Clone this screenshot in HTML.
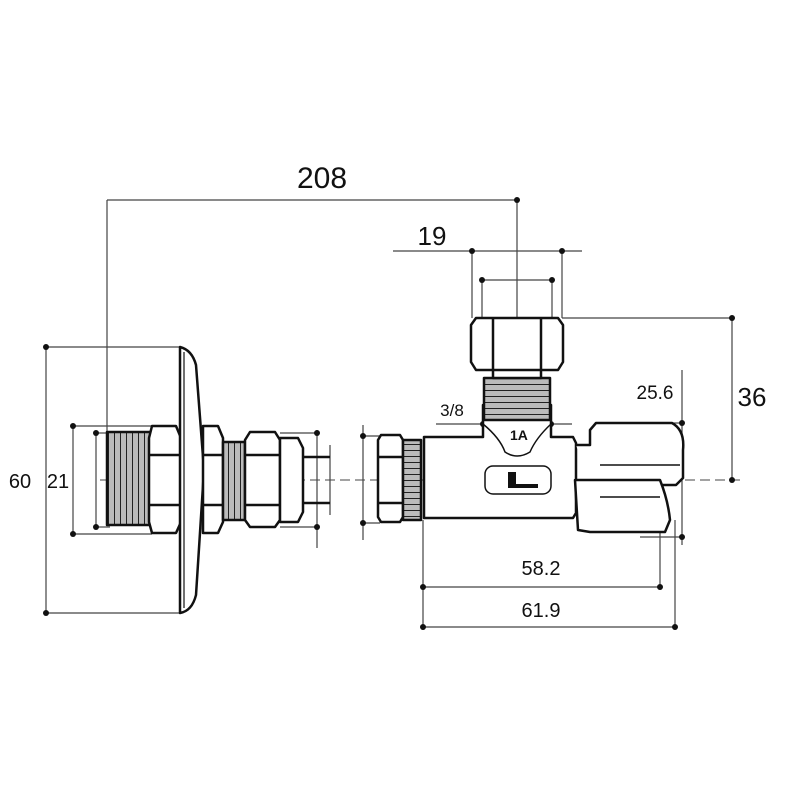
<!DOCTYPE html>
<html><head><meta charset="utf-8"><style>
html,body{margin:0;padding:0;background:#fff;}
svg{display:block;}
text{font-family:"Liberation Sans","DejaVu Sans",sans-serif;fill:#111;}
</style></head><body>
<svg width="800" height="800" viewBox="0 0 800 800" xmlns="http://www.w3.org/2000/svg">
<defs>
<pattern id="thr" width="6" height="6" patternUnits="userSpaceOnUse">
<rect width="6" height="6" fill="#bbb"/><line x1="0" y1="0" x2="0" y2="6" stroke="#222" stroke-width="2"/>
</pattern>
<pattern id="thrh" width="6" height="6" patternUnits="userSpaceOnUse">
<rect width="6" height="6" fill="#bbb"/><line x1="0" y1="0" x2="6" y2="0" stroke="#222" stroke-width="2"/>
</pattern>
</defs>
<g stroke="#444" stroke-width="1.2" fill="none">
<line x1="107" y1="200" x2="517" y2="200"/>
<line x1="107" y1="200" x2="107" y2="432"/>
<line x1="517" y1="200" x2="517" y2="480"/>
<line x1="393" y1="251" x2="582" y2="251"/>
<line x1="472" y1="251" x2="472" y2="318"/>
<line x1="562" y1="251" x2="562" y2="318"/>
<line x1="482" y1="280" x2="552" y2="280"/>
<line x1="482" y1="280" x2="482" y2="318"/>
<line x1="552" y1="280" x2="552" y2="318"/>
<line x1="562" y1="318" x2="732" y2="318"/>
<line x1="732" y1="318" x2="732" y2="480"/>
<line x1="682" y1="370" x2="682" y2="545"/>
<line x1="672" y1="423" x2="682" y2="423"/>
<line x1="436" y1="424" x2="572" y2="424"/>
<line x1="423" y1="520" x2="423" y2="630"/>
<line x1="423" y1="587" x2="660" y2="587"/>
<line x1="660" y1="515" x2="660" y2="590"/>
<line x1="423" y1="627" x2="675" y2="627"/>
<line x1="675" y1="520" x2="675" y2="630"/>
<line x1="640" y1="537" x2="682" y2="537"/>
<line x1="46" y1="347" x2="46" y2="613"/>
<line x1="46" y1="347" x2="180" y2="347"/>
<line x1="46" y1="613" x2="180" y2="613"/>
<line x1="73" y1="426" x2="73" y2="534"/>
<line x1="73" y1="426" x2="152" y2="426"/>
<line x1="73" y1="534" x2="152" y2="534"/>
<line x1="96" y1="433" x2="96" y2="527"/>
<line x1="96" y1="433" x2="110" y2="433"/>
<line x1="96" y1="527" x2="110" y2="527"/>
<line x1="317" y1="430" x2="317" y2="548"/>
<line x1="280" y1="433" x2="317" y2="433"/>
<line x1="280" y1="527" x2="317" y2="527"/>
<line x1="330" y1="445" x2="330" y2="515"/>
<line x1="363" y1="425" x2="363" y2="540"/>
<line x1="363" y1="436" x2="380" y2="436"/>
<line x1="363" y1="523" x2="380" y2="523"/>
<line x1="100" y1="480" x2="740" y2="480" stroke-dasharray="10,5" stroke-width="1"/>
</g>
<g fill="#111">
<circle cx="517" cy="200" r="3"/><circle cx="472" cy="251" r="3"/><circle cx="562" cy="251" r="3"/>
<circle cx="482" cy="280" r="3"/><circle cx="552" cy="280" r="3"/>
<circle cx="732" cy="318" r="3"/><circle cx="732" cy="480" r="3"/>
<circle cx="682" cy="423" r="3"/><circle cx="682" cy="537" r="3"/>
<circle cx="483" cy="424" r="3"/><circle cx="551" cy="424" r="3"/>
<circle cx="423" cy="587" r="3"/><circle cx="660" cy="587" r="3"/>
<circle cx="423" cy="627" r="3"/><circle cx="675" cy="627" r="3"/>
<circle cx="46" cy="347" r="3"/><circle cx="46" cy="613" r="3"/>
<circle cx="73" cy="426" r="3"/><circle cx="73" cy="534" r="3"/>
<circle cx="96" cy="433" r="3"/><circle cx="96" cy="527" r="3"/>
<circle cx="317" cy="433" r="3"/><circle cx="317" cy="527" r="3"/>
<circle cx="363" cy="436" r="3"/><circle cx="363" cy="523" r="3"/>
</g>
<g stroke="#111" stroke-width="2.5" fill="#fff" stroke-linejoin="round">
<rect x="107" y="432" width="45" height="93" fill="url(#thr)"/>
<path d="M152 426 H176 L181 438 V522 L176 533 H152 L149 522 V438 Z"/>
<line x1="150" y1="455" x2="181" y2="455"/><line x1="150" y1="505" x2="181" y2="505"/>
<path d="M180 347 Q192 350 196 365 L204 470 L196 595 Q192 611 180 613 Z"/>
<line x1="184" y1="352" x2="184" y2="608" stroke-width="1.2"/>
<path d="M203 426 H218 L223 438 V522 L218 533 H203 Z"/>
<line x1="203" y1="455" x2="223" y2="455"/><line x1="203" y1="505" x2="223" y2="505"/>
<rect x="223" y="442" width="22" height="78" fill="url(#thr)"/>
<path d="M250 432 H275 L280 440 V520 L275 527 H250 L245 520 V440 Z"/>
<line x1="246" y1="455" x2="280" y2="455"/><line x1="246" y1="505" x2="280" y2="505"/>
<path d="M280 438 H298 L303 448 V512 L298 522 H280 Z"/>
<line x1="303" y1="457" x2="330" y2="457"/><line x1="303" y1="503" x2="330" y2="503"/>
<path d="M378 440 L381 435 H400 L403 440 V517 L400 522 H381 L378 517 Z"/>
<line x1="378" y1="457" x2="403" y2="457"/><line x1="378" y1="503" x2="403" y2="503"/>
<rect x="403" y="440" width="18" height="80" fill="url(#thrh)"/>
<path d="M424 437 H483 V405 H551 V437 H573 L576 443 V513 L573 518 H424 Z"/>
<path d="M483 424 Q500 438 505 452 Q517 460 530 452 Q536 438 551 424" fill="none" stroke-width="1.5"/>
<rect x="485" y="466" width="66" height="28" rx="8" stroke-width="1.5"/>
<rect x="484" y="378" width="66" height="42" fill="url(#thrh)"/>
<rect x="493" y="368" width="48" height="10"/>
<path d="M476 318 H558 L563 325 V362 L558 370 H476 L471 362 V325 Z"/>
<line x1="493" y1="319" x2="493" y2="369"/><line x1="541" y1="319" x2="541" y2="369"/>
<path d="M576 445 H590 V430 L596 423 H672 Q685 430 683 450 V478 L676 485 H590"/>
<path d="M575 480 H660 Q668 500 670 520 L665 532 H590 L578 530 Z"/>
<line x1="600" y1="465" x2="680" y2="465" stroke-width="1.5"/>
<line x1="600" y1="497" x2="660" y2="497" stroke-width="1.5"/>
</g>
<rect x="508" y="472" width="8" height="16" fill="#111"/>
<rect x="508" y="484" width="30" height="4" fill="#111"/>
<text x="510" y="440" font-size="14" font-weight="bold">1A</text>
<text x="322" y="188" font-size="30" text-anchor="middle">208</text>
<text x="432" y="245" font-size="26" text-anchor="middle">19</text>
<text x="752" y="406" font-size="26" text-anchor="middle">36</text>
<text x="655" y="399" font-size="19" text-anchor="middle">25.6</text>
<text x="452" y="416" font-size="17" text-anchor="middle">3/8</text>
<text x="541" y="575" font-size="20" text-anchor="middle">58.2</text>
<text x="541" y="617" font-size="20" text-anchor="middle">61.9</text>
<text x="20" y="488" font-size="20" text-anchor="middle">60</text>
<text x="58" y="488" font-size="20" text-anchor="middle">21</text>
</svg>
</body></html>
